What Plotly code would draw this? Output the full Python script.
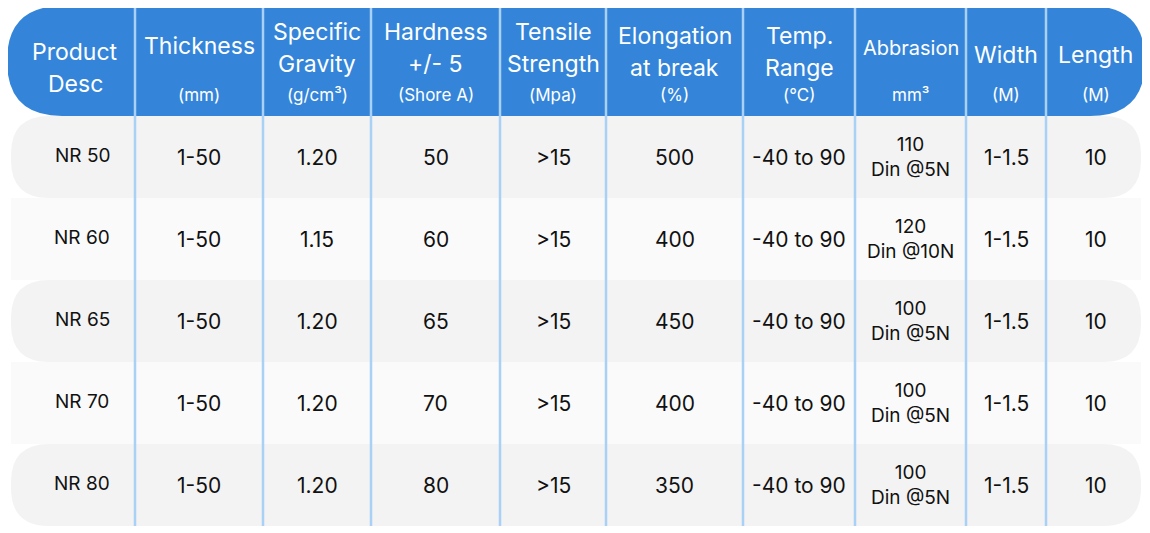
import plotly.graph_objects as go

products = ["NR 50", "NR 60", "NR 65", "NR 70", "NR 80"]
thickness = ["1-50"] * 5
gravity = ["1.20", "1.15", "1.20", "1.20", "1.20"]
hardness = ["50", "60", "65", "70", "80"]
tensile = [">15"] * 5
elongation = ["500", "400", "450", "400", "350"]
temp = ["-40 to 90"] * 5
abrasion = ["110<br>Din @5N", "120<br>Din @10N", "100<br>Din @5N", "100<br>Din @5N", "100<br>Din @5N"]
width = ["1-1.5"] * 5
length = ["10"] * 5

header_main = [["Product", "Desc"], ["Thickness"], ["Specific", "Gravity"], ["Hardness", "+/- 5"],
               ["Tensile", "Strength"], ["Elongation", "at break"], ["Temp.", "Range"], ["Abbrasion"],
               ["Width"], ["Length"]]
header_sub = [None, "(mm)", "(g/cm³)", "(Shore A)", "(Mpa)", "(%)", "(°C)", "mm³", "(M)", "(M)"]

columns = [products, thickness, gravity, hardness, tensile, elongation, temp, abrasion, width, length]

edges = [7, 135, 263, 371, 500, 606, 743, 855, 966, 1046, 1145]
H_TOP, H_BOT, ROW_H = 6, 116, 82
BLUE, LINE = "#3485d9", "#a9d0f5"
FONT = "Inter"
OFF = 8  # page body margin

def rrect(x0, y0, x1, y1, r):
    return (f"M{x0+r},{y0} L{x1-r},{y0} Q{x1},{y0} {x1},{y0+r} L{x1},{y1-r} Q{x1},{y1} {x1-r},{y1} "
            f"L{x0+r},{y1} Q{x0},{y1} {x0},{y1-r} L{x0},{y0+r} Q{x0},{y0} {x0+r},{y0} Z")

shapes, ann = [], []
for i in range(len(products)):
    y0 = H_BOT + i * ROW_H
    col = "#f3f3f3" if i % 2 == 0 else "#fafafa"
    shapes.append(dict(type="path", path=rrect(edges[0] + 4, y0, edges[-1] - 4, y0 + ROW_H, 38 if i % 2 == 0 else 0),
                       fillcolor=col, line=dict(width=0), layer="below"))
shapes.append(dict(type="path", path=rrect(edges[0], H_TOP, edges[-1], H_BOT, 55), fillcolor=BLUE,
                   line=dict(width=0), layer="below"))
for x in edges[1:-1]:
    shapes.append(dict(type="line", x0=x, x1=x, y0=H_TOP, y1=H_BOT + 5 * ROW_H, line=dict(color=LINE, width=2.5)))

def add(x, y, t, size, color):
    ann.append(dict(x=x, y=y, text=t, showarrow=False, xanchor="center", yanchor="middle",
                    font=dict(family=FONT, size=size, color=color)))

for c in range(len(columns)):
    xc = (edges[c] + edges[c + 1]) / 2
    lines = header_main[c]
    sub = header_sub[c]
    if c == 0:
        ys = [52, 84]
    elif len(lines) == 1:
        ys = [48] if c == 7 else [46 if c == 1 else 55]
    else:
        ys = [36, 68] if c in (5, 6) else [32, 64]
    size = 20 if c == 7 else 23
    for t, y in zip(lines, ys):
        add(xc + (4 if c == 0 else 0), y, t, size, "white")
    if sub:
        add(xc, 95, sub, 17, "white")
    for r, v in enumerate(columns[c]):
        yc = H_BOT + r * ROW_H + ROW_H / 2
        if c == 0:
            add(xc + 11, yc - 2, v, 19, "#111")
        elif c == 7:
            add(xc, yc, v, 19, "#111")
        else:
            add(xc, yc, v, 21, "#111")

fig = go.Figure()
fig.update_layout(width=1150, height=533, margin=dict(l=0, r=0, t=0, b=0),
                  paper_bgcolor="white", plot_bgcolor="white", shapes=shapes, annotations=ann,
                  xaxis=dict(range=[OFF, 1150 + OFF], visible=False, fixedrange=True),
                  yaxis=dict(range=[533 + OFF, OFF], visible=False, fixedrange=True), showlegend=False)
fig.write_html("out.html", config={"displayModeBar": False})
